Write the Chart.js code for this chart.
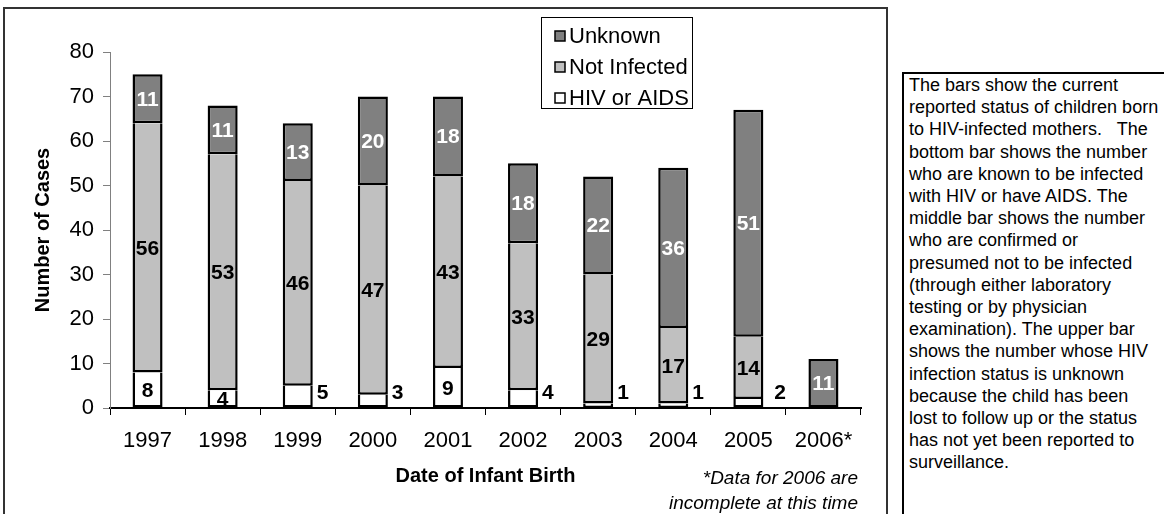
<!DOCTYPE html>
<html>
<head>
<meta charset="utf-8">
<script src="https://cdn.jsdelivr.net/npm/chart.js@4"></script>
<style>
  html, body { margin: 0; padding: 0; width: 1164px; height: 514px; overflow: hidden; background: #fff; }
  body { font-family: "Liberation Sans", Arial, sans-serif; color: #000; position: relative; }
  #frame { position: absolute; left: 3px; top: 7px; width: 881px; height: 530px; border: 2px solid #333; }
  #wrap { position: absolute; left: 0; top: 0; width: 890px; height: 514px; }
  #note { position: absolute; right: 306px; top: 465px; text-align: right; font-style: italic; font-size: 19px; line-height: 25px; white-space: nowrap; }
  #box { position: absolute; left: 902px; top: 72px; width: 300px; height: 470px; border: 2px solid #000; padding-left: 5px; font-size: 18px; line-height: 22.2px; white-space: nowrap; }
</style>
</head>
<body>
<div id="frame"></div>
<div id="wrap"><canvas id="chart" width="890" height="514"></canvas></div>
<div id="note">*Data for 2006 are<br>incomplete at this time</div>
<div id="box">The bars show the current<br>reported status of children born<br>to HIV-infected mothers. &nbsp; The<br>bottom bar shows the number<br>who are known to be infected<br>with HIV or have AIDS. The<br>middle bar shows the number<br>who are confirmed or<br>presumed not to be infected<br>(through either laboratory<br>testing or by physician<br>examination). The upper bar<br>shows the number whose HIV<br>infection status is unknown<br>because the child has been<br>lost to follow up or the status<br>has not yet been reported to<br>surveillance.</div>
<script>
// values
const years = ['1997', '1998', '1999', '2000', '2001', '2002', '2003', '2004', '2005', '2006*'];
const hivOrAids = [8, 4, 5, 3, 9, 4, 1, 1, 2, 0];
const notInfected = [56, 53, 46, 47, 43, 33, 29, 17, 14, 0];
const unknown = [11, 11, 13, 20, 18, 18, 22, 36, 51, 11];

const FONT = '"Liberation Sans", Arial, sans-serif';
Chart.defaults.font.family = FONT;
Chart.defaults.color = '#000';

// numbers on the bars; small HIV counts sit to the right of the bar
const barLabels = {
  id: 'barLabels',
  afterDatasetsDraw(chart, args, opts) {
    const ctx = chart.ctx;
    const yScale = chart.scales.y;
    ctx.save();
    ctx.font = 'bold 21px ' + FONT;
    ctx.textBaseline = 'middle';
    chart.data.datasets.forEach((ds, di) => {
      const meta = chart.getDatasetMeta(di);
      meta.data.forEach((bar, i) => {
        const v = ds.data[i];
        if (!v) return;
        ctx.fillStyle = ds.labelColor;
        if (di === 0 && opts.outside.includes(i)) {
          ctx.textAlign = 'left';
          ctx.fillText(v, bar.x + bar.width / 2 + (i === 8 ? 11 : 4), yScale.getPixelForValue(3.4));
        } else {
          ctx.textAlign = 'center';
          ctx.fillText(v, bar.x, (bar.y + bar.base) / 2 + 1);
        }
      });
    });
    ctx.restore();
  }
};

// boxed legend inside the plot, top series first
const boxLegend = {
  id: 'boxLegend',
  afterDraw(chart) {
    const ctx = chart.ctx;
    ctx.save();
    ctx.fillStyle = '#fff';
    ctx.fillRect(541, 17, 151, 91);
    ctx.strokeStyle = '#000';
    ctx.lineWidth = 1;
    ctx.strokeRect(541.5, 17.5, 151, 91);
    ctx.font = '22px ' + FONT;
    ctx.textBaseline = 'middle';
    ctx.textAlign = 'left';
    chart.data.datasets.slice().reverse().forEach((ds, k) => {
      const cy = 36 + k * 31;
      ctx.fillStyle = ds.backgroundColor;
      ctx.fillRect(555, cy - 5, 10, 10);
      ctx.lineWidth = 1.5;
      ctx.strokeRect(555, cy - 5, 10, 10);
      ctx.fillStyle = '#000';
      ctx.fillText(ds.label, 569, cy + 1);
    });
    ctx.restore();
  }
};

new Chart(document.getElementById('chart'), {
  type: 'bar',
  data: {
    labels: years,
    datasets: [
      {
        label: 'HIV or AIDS',
        data: hivOrAids,
        backgroundColor: '#ffffff',
        borderColor: '#000',
        borderWidth: 2.5,
        borderSkipped: 'top',
        inflateAmount: 0,
        labelColor: '#000'
      },
      {
        label: 'Not Infected',
        data: notInfected,
        backgroundColor: '#c0c0c0',
        borderColor: '#000',
        borderWidth: 2.5,
        borderSkipped: 'top',
        inflateAmount: 0,
        labelColor: '#000'
      },
      {
        label: 'Unknown',
        data: unknown,
        backgroundColor: '#808080',
        borderColor: '#000',
        borderWidth: 2.5,
        borderSkipped: false,
        inflateAmount: 0,
        labelColor: '#fff'
      }
    ]
  },
  options: {
    responsive: false,
    animation: false,
    devicePixelRatio: 1,
    categoryPercentage: 1,
    barPercentage: 0.4,
    layout: { padding: { left: 0, top: 52, right: 29, bottom: 0 } },
    plugins: {
      legend: { display: false },
      tooltip: { enabled: false },
      barLabels: { outside: [2, 3, 5, 6, 7, 8] }
    },
    scales: {
      x: {
        stacked: true,
        ticks: { font: { size: 22 }, padding: 13, maxRotation: 0 },
        grid: { drawOnChartArea: false, tickLength: 7, color: '#000', offset: true },
        border: { color: '#000', width: 2 },
        title: { display: true, text: 'Date of Infant Birth', font: { size: 20, weight: 'bold' }, padding: { top: 0, bottom: 26 } },
        afterFit(s) { s.height = 106; }
      },
      y: {
        stacked: true,
        min: 0,
        max: 80,
        ticks: { stepSize: 10, font: { size: 22 }, padding: 9 },
        grid: { drawOnChartArea: false, tickLength: 7, color: '#808080' },
        border: { color: '#808080', width: 1 },
        title: { display: true, text: 'Number of Cases', font: { size: 20, weight: 'bold' }, padding: { top: 31, bottom: 0 } },
        afterFit(s) { s.width = 110; }
      }
    }
  },
  plugins: [barLabels, boxLegend]
});
</script>
</body>
</html>
